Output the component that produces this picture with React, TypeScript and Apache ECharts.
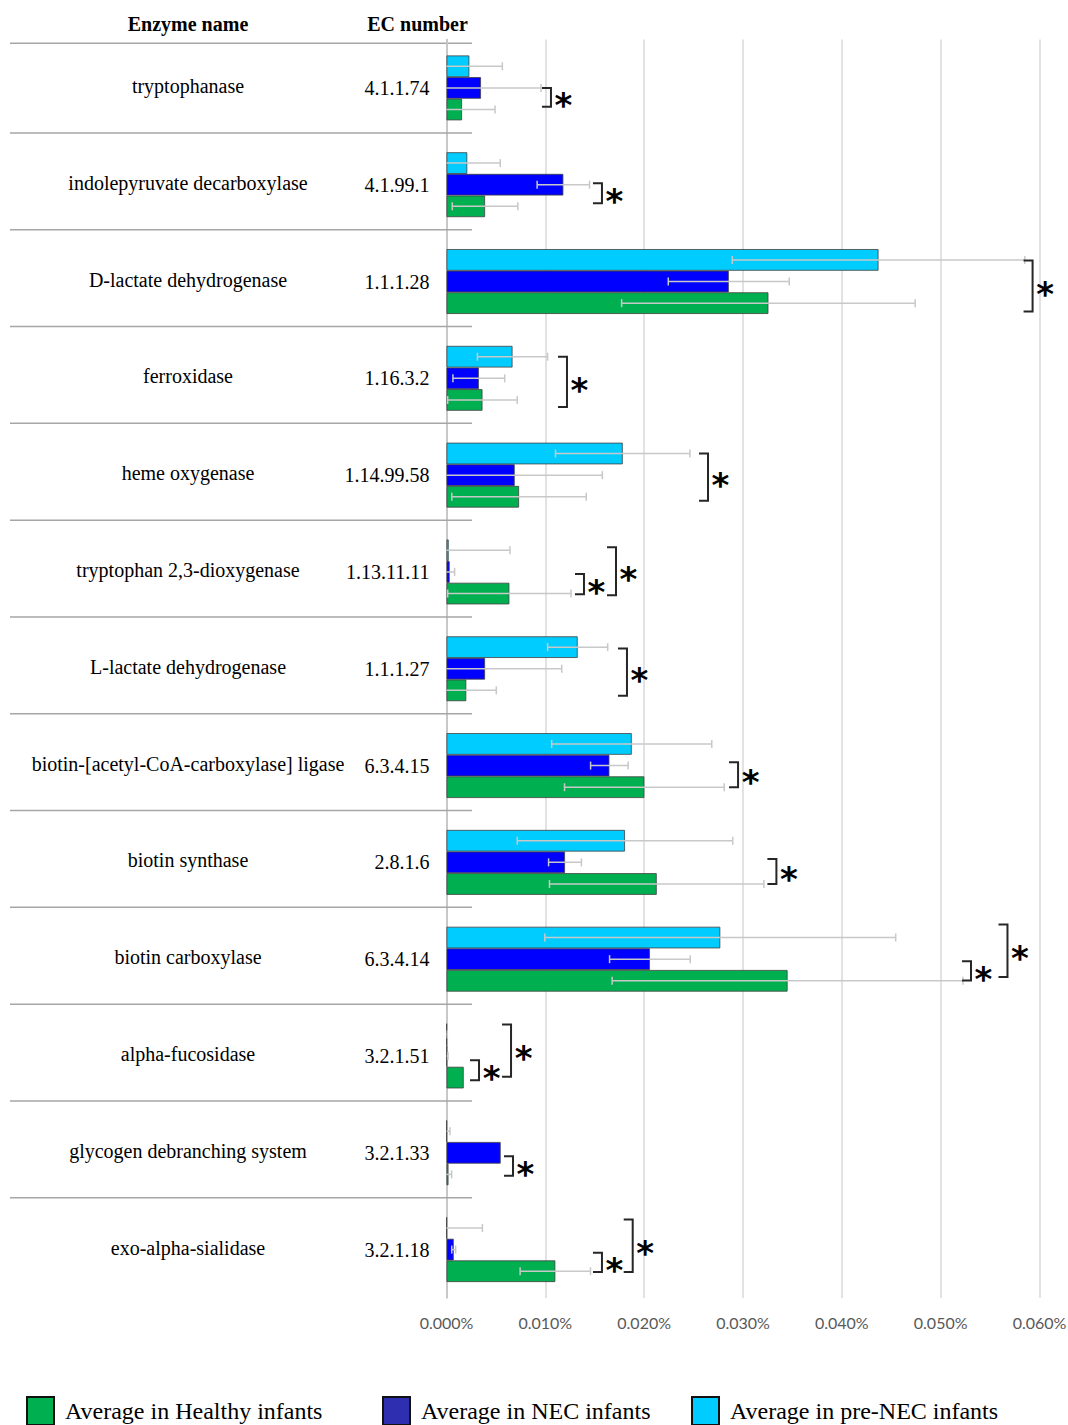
import React, { useEffect, useRef } from 'react';
import * as echarts from 'echarts';

// ---------- data ----------
const enzymeNames = [
  'tryptophanase',
  'indolepyruvate decarboxylase',
  'D-lactate dehydrogenase',
  'ferroxidase',
  'heme oxygenase',
  'tryptophan 2,3-dioxygenase',
  'L-lactate dehydrogenase',
  'biotin-[acetyl-CoA-carboxylase] ligase',
  'biotin synthase',
  'biotin carboxylase',
  'alpha-fucosidase',
  'glycogen debranching system',
  'exo-alpha-sialidase',
];
const ecNumbers = [
  '4.1.1.74', '4.1.99.1', '1.1.1.28', '1.16.3.2', '1.14.99.58', '1.13.11.11', '1.1.1.27',
  '6.3.4.15', '2.8.1.6', '6.3.4.14', '3.2.1.51', '3.2.1.33', '3.2.1.18',
];

// values in percent (0.01 => 0.010%)
const preNecMean = [0.00231, 0.0021, 0.04371, 0.00668, 0.01783, 0.00022, 0.01327, 0.01874, 0.01806, 0.0277, 0.00003, 0.00003, 0.00003];
const preNecSd = [0.00334, 0.00334, 0.0148, 0.00355, 0.0068, 0.0062, 0.00304, 0.0081, 0.0109, 0.01775, 0.00005, 0.00032, 0.0036];
const necMean = [0.00349, 0.01182, 0.02856, 0.00327, 0.0069, 0.00032, 0.0039, 0.01648, 0.01199, 0.02058, 0.00005, 0.00548, 0.00073];
const necSd = [0.00607, 0.00265, 0.00612, 0.00262, 0.00887, 0.0005, 0.00776, 0.0019, 0.00166, 0.00408, 0.0001, 0, 0.0002];
const healthyMean = [0.00157, 0.0039, 0.03257, 0.00364, 0.00734, 0.00636, 0.002, 0.02002, 0.02127, 0.03451, 0.00174, 0.0002, 0.01101];
const healthySd = [0.00334, 0.00332, 0.01485, 0.00352, 0.0068, 0.00624, 0.00304, 0.00808, 0.01085, 0.01775, 0, 0.00032, 0.00356];

const seriesNames = ['Average in pre-NEC infants', 'Average in NEC infants', 'Average in Healthy infants'];
const legendOrder = ['Average in Healthy infants', 'Average in NEC infants', 'Average in pre-NEC infants'];

const axisMin = 0;
const axisMax = 0.06;
const axisStep = 0.01;

// significance brackets: row, x value (%), top / bottom in bar slots (0 = pre-NEC, 1 = NEC, 2 = Healthy)
const bracketRow = [0, 1, 2, 3, 4, 5, 5, 6, 7, 8, 9, 9, 10, 10, 11, 12, 12];
const bracketX = [0.01057, 0.01573, 0.0593, 0.01219, 0.02646, 0.01391, 0.01715, 0.01826, 0.0295, 0.03338, 0.05307, 0.05676, 0.00329, 0.00653, 0.00673, 0.01573, 0.01884];
const bracketTop = [1, 0.93, 0.03, 0, 0, 1.1, -0.14, 0.06, 0.85, 0.85, 1.1, -0.6, 1.2, -0.46, 1.16, 1.15, -0.39];
const bracketBottom = [1.87, 1.86, 2.39, 2.33, 2.18, 2.03, 2.08, 2.25, 2.0, 2.0, 1.99, 1.82, 2.12, 1.96, 2.06, 2.04, 2.04];

// ---------- style ----------
const COLORS = ['#00ccff', '#0000ff', '#00b050'];
const LEGEND_COLORS: Record<string, string> = {
  'Average in Healthy infants': '#00b050',
  'Average in NEC infants': '#2e2eb0',
  'Average in pre-NEC infants': '#00ccff',
};
const CAT_GAP = 0.33;
const SERIF = '"Liberation Serif", "Times New Roman", serif';

export default function App() {
  const ref = useRef<HTMLDivElement>(null);

  useEffect(() => {
    document.body.style.margin = '0';
    if (!ref.current) return;
    const chart = echarts.init(ref.current, undefined, { renderer: 'svg' });

    const means = [preNecMean, necMean, healthyMean];
    const sds = [preNecSd, necSd, healthySd];

    const errData: number[][] = [];
    means.forEach((arr, s) => arr.forEach((m, i) => errData.push([m, i, sds[s][i], s])));

    const bracketData = bracketRow.map((r, k) => [bracketX[k], r, bracketTop[k], bracketBottom[k]]);
    const sepData = enzymeNames.slice(0, -1).map((_, i) => [0, i]);

    const slotWidth = (api: any) => (api.size([0, 1])[1] * (1 - CAT_GAP)) / 3;

    const option: any = {
      animation: false,
      backgroundColor: '#ffffff',
      grid: { left: 446.5, right: 28.5, top: 39.5, bottom: 127, containLabel: false, outerBoundsMode: 'none' },
      xAxis: {
        type: 'value',
        min: axisMin,
        max: axisMax,
        interval: axisStep,
        axisLine: { show: false },
        axisTick: { show: false },
        splitLine: { show: true, lineStyle: { color: '#d9d9d9', width: 1.5 } },
        axisLabel: {
          margin: 16,
          color: '#595959',
          fontFamily: 'Lato, "Open Sans", sans-serif',
          fontSize: 16,
          formatter: (v: number) => v.toFixed(3) + '%',
        },
      },
      yAxis: {
        type: 'category',
        inverse: true,
        data: enzymeNames,
        axisLine: { show: true, lineStyle: { color: '#bfbfbf', width: 1.5 } },
        axisTick: { show: false },
        splitLine: { show: false },
        axisLabel: {
          margin: 17,
          formatter: (v: string, idx: number) => `{n|${v}}{e|${ecNumbers[idx]}}`,
          rich: {
            n: { width: 357, align: 'center', fontFamily: SERIF, fontSize: 20, color: '#000', padding: [0, 0, 4, 0] },
            e: { width: 63, align: 'right', fontFamily: SERIF, fontSize: 20, color: '#000' },
          },
        },
      },
      legend: legendOrder.map((name, k) => ({
        data: [{ name, itemStyle: { color: LEGEND_COLORS[name], borderColor: '#111', borderWidth: 2 } }],
        left: [26, 382, 691][k],
        top: 1396,
        padding: 0,
        itemWidth: 27,
        itemHeight: 28,
        icon: 'rect',
        selectedMode: false,
        textStyle: { fontFamily: SERIF, fontSize: 24, color: '#000', padding: [0, 0, 0, 6] },
      })),
      graphic: [
        { type: 'text', x: 188, y: 24, style: { text: 'Enzyme name', fontFamily: SERIF, fontWeight: 'bold', fontSize: 20, fill: '#000', align: 'center', verticalAlign: 'middle' } },
        { type: 'text', x: 417.5, y: 24, style: { text: 'EC number', fontFamily: SERIF, fontWeight: 'bold', fontSize: 20, fill: '#000', align: 'center', verticalAlign: 'middle' } },
        { type: 'line', shape: { x1: 10, y1: 43.3, x2: 472, y2: 43.3 }, style: { stroke: '#a6a6a6', lineWidth: 1.5 } },
      ],
      series: [
        ...seriesNames.map((name, s) => ({
          name,
          type: 'bar',
          data: means[s],
          barGap: '0%',
          barCategoryGap: `${CAT_GAP * 100}%`,
          itemStyle: { color: COLORS[s], borderColor: '#404040', borderWidth: 0.8 },
          z: 2,
        })),
        {
          type: 'custom',
          name: 'separators',
          data: sepData,
          encode: { x: 0, y: 1 },
          clip: false,
          z: 1,
          silent: true,
          renderItem: (params: any, api: any) => {
            const p = api.coord([api.value(0), api.value(1)]);
            const band = api.size([0, 1])[1];
            const y = p[1] + band / 2 - 3.4;
            return { type: 'line', shape: { x1: 10, y1: y, x2: 472, y2: y }, style: { stroke: '#a6a6a6', lineWidth: 1.5 } };
          },
        },
        {
          type: 'custom',
          name: 'errors',
          data: errData,
          encode: { x: 0, y: 1 },
          clip: false,
          z: 3,
          silent: true,
          renderItem: (params: any, api: any) => {
            const mean = api.value(0);
            const row = api.value(1);
            const sd = api.value(2);
            const s = api.value(3);
            if (!sd) return { type: 'group', children: [] };
            const bw = slotWidth(api);
            const c = api.coord([mean, row]);
            const y = c[1] + (s - 1) * bw;
            const lowVal = mean - sd;
            const lo = api.coord([Math.max(0, lowVal), row])[0];
            const hi = api.coord([mean + sd, row])[0];
            const st = { stroke: '#c8c8c8', lineWidth: 1.5 };
            const children: any[] = [
              { type: 'line', shape: { x1: lo, y1: y, x2: hi, y2: y }, style: st },
              { type: 'line', shape: { x1: hi, y1: y - 4, x2: hi, y2: y + 4 }, style: st },
            ];
            if (lowVal > 0) children.push({ type: 'line', shape: { x1: lo, y1: y - 4, x2: lo, y2: y + 4 }, style: st });
            return { type: 'group', children };
          },
        },
        {
          type: 'custom',
          name: 'brackets',
          data: bracketData,
          encode: { x: 0, y: 1 },
          clip: false,
          z: 4,
          silent: true,
          renderItem: (params: any, api: any) => {
            const bw = slotWidth(api);
            const p = api.coord([api.value(0), api.value(1)]);
            const yT = p[1] + (api.value(2) - 1) * bw;
            const yB = p[1] + (api.value(3) - 1) * bw;
            const x = p[0];
            const fs = 34;
            return {
              type: 'group',
              children: [
                {
                  type: 'polyline',
                  shape: { points: [[x - 9, yT], [x, yT], [x, yB], [x - 9, yB]] },
                  style: { stroke: '#262626', lineWidth: 2, fill: 'none' },
                },
                {
                  type: 'text',
                  x: x + 12.5,
                  y: (yT + yB) / 2 + 1.5 + fs * 0.18,
                  style: { text: '*', fontFamily: '"DejaVu Sans", sans-serif', fontWeight: 'bold', fontSize: fs, fill: '#000', align: 'center', verticalAlign: 'middle' },
                },
              ],
            };
          },
        },
      ],
    };

    chart.setOption(option);
    return () => chart.dispose();
  }, []);

  return <div ref={ref} style={{ width: 1068, height: 1425 }} />;
}
